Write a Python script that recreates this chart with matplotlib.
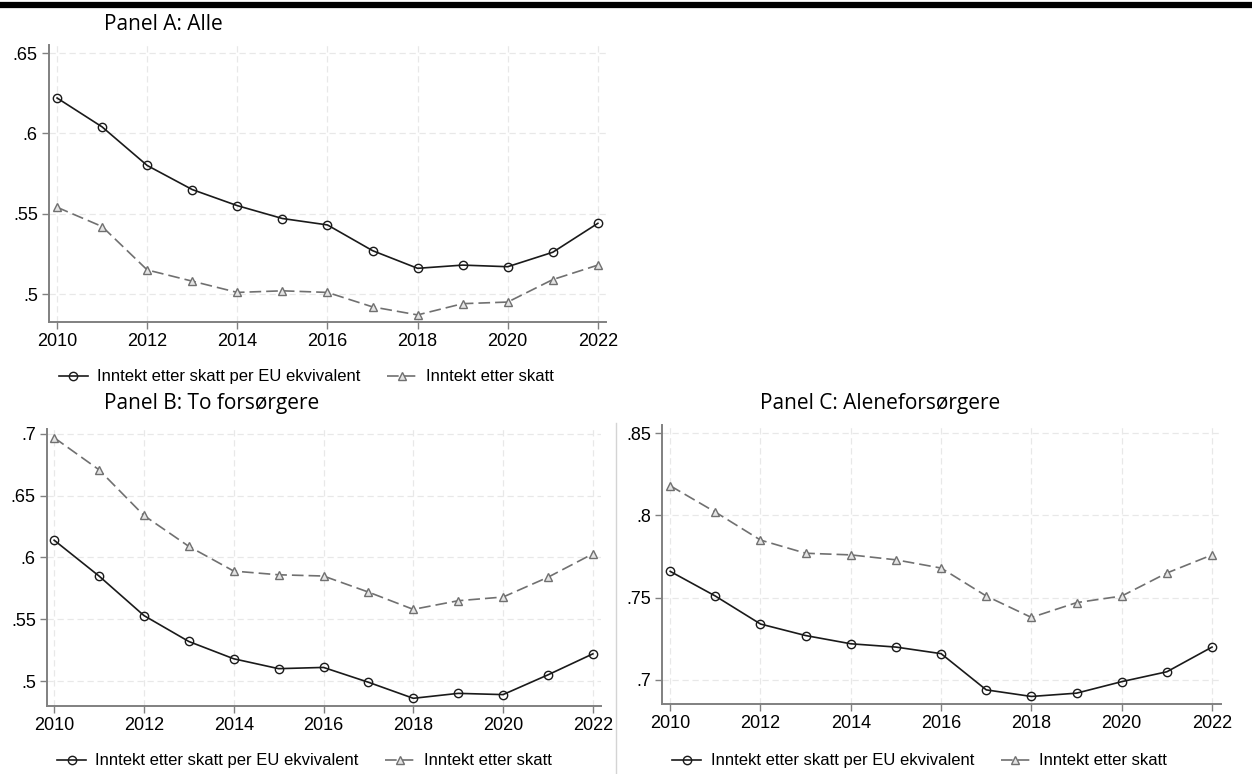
import matplotlib
matplotlib.use("Agg")
import matplotlib.pyplot as plt
from matplotlib.lines import Line2D
from matplotlib.ticker import FuncFormatter

years = list(range(2010, 2023))

# Panel A: Alle
a_eu = [.622, .604, .580, .565, .555, .547, .543, .527, .516, .518, .517, .526, .544]
a_raw = [.554, .542, .515, .508, .501, .502, .501, .492, .487, .494, .495, .509, .518]
# Panel B: To forsørgere
b_eu = [.614, .585, .553, .532, .518, .510, .511, .499, .486, .490, .489, .505, .522]
b_raw = [.697, .671, .634, .609, .589, .586, .585, .572, .558, .565, .568, .584, .603]
# Panel C: Aleneforsørgere
c_eu = [.766, .751, .734, .727, .722, .720, .716, .694, .690, .692, .699, .705, .720]
c_raw = [.818, .802, .785, .777, .776, .773, .768, .751, .738, .747, .751, .765, .776]

titles = ["Panel A: Alle", "Panel B: To forsørgere", "Panel C: Aleneforsørgere"]
lab_eu = "Inntekt etter skatt per EU ekvivalent"
lab_raw = "Inntekt etter skatt"

TICK_FONT = "Liberation Sans"
TITLE_FONT = "Open Sans"


def stata_fmt(v, pos):
    s = f"{v:.2f}".rstrip("0")
    if s.startswith("0"):
        s = s[1:]
    return s


def draw_panel(ax, eu, raw, yticks, ylim, xlim):
    ax.plot(years, eu, color="#1a1a1a", lw=1.2, marker="o", ms=6,
            mfc="none", mec="#1a1a1a", mew=1.0, label=lab_eu, zorder=3)
    ax.plot(years, raw, color="#707070", lw=1.2, ls=(0, (7, 3)), marker="^", ms=6.3,
            mfc="#e4e4e4", mec="#707070", mew=1.0, label=lab_raw, zorder=3)
    ax.set_xlim(*xlim)
    ax.set_ylim(*ylim)
    ax.set_xticks(range(2010, 2023, 2))
    ax.set_yticks(yticks)
    ax.yaxis.set_major_formatter(FuncFormatter(stata_fmt))
    ax.grid(True, color="#e8e8e8", ls=(0, (5, 3)), lw=0.9)
    ax.set_axisbelow(True)
    for s in ["top", "right"]:
        ax.spines[s].set_visible(False)
    for s in ["left", "bottom"]:
        ax.spines[s].set_color("#808080")
        ax.spines[s].set_linewidth(1.4)
    ax.tick_params(axis="both", length=5, width=1.0, color="#808080",
                   labelsize=13, pad=3)
    for t in ax.get_xticklabels() + ax.get_yticklabels():
        t.set_fontfamily(TICK_FONT)


fig = plt.figure(figsize=(12.52, 7.74), dpi=100)

axA = fig.add_axes([0.0391, 0.5840, 0.4449, 0.3579])
axB = fig.add_axes([0.0375, 0.0879, 0.4425, 0.3578])
axC = fig.add_axes([0.5288, 0.0904, 0.4465, 0.3605])

draw_panel(axA, a_eu, a_raw, [.5, .55, .6, .65], (.4826, .655), (2009.82, 2022.18))
draw_panel(axB, b_eu, b_raw, [.5, .55, .6, .65, .7], (.4798, .704), (2009.84, 2022.18))
draw_panel(axC, c_eu, c_raw, [.7, .75, .8, .85], (.6854, .8549), (2009.82, 2022.2))

# panel titles
fig.text(0.0831, 0.968, titles[0], fontsize=15, family=TITLE_FONT, va="center")
fig.text(0.0831, 0.479, titles[1], fontsize=15, family=TITLE_FONT, va="center")
fig.text(0.703, 0.479, titles[2], fontsize=15, family=TITLE_FONT, va="center",
         ha="center")

leg_pos = [(0.047, 0.513), (0.0455, 0.0168), (0.537, 0.0168)]
for ax, (lx, ly) in zip([axA, axB, axC], leg_pos):
    fig.legend(*ax.get_legend_handles_labels(), loc="center left",
               bbox_to_anchor=(lx, ly), ncol=2, frameon=False,
               prop={"family": TICK_FONT, "size": 12},
               borderpad=0, borderaxespad=0,
               handlelength=1.75, columnspacing=1.6, handletextpad=0.55)

# thick rule at the top and separator between lower panels
fig.add_artist(Line2D([0, 1], [0.9935, 0.9935], color="black", lw=4.5,
                      transform=fig.transFigure))
fig.add_artist(Line2D([0.492, 0.492], [0, 0.453], color="#d4d4d4", lw=1.0,
                      transform=fig.transFigure))

fig.savefig("out.png", dpi=100, facecolor="white")
